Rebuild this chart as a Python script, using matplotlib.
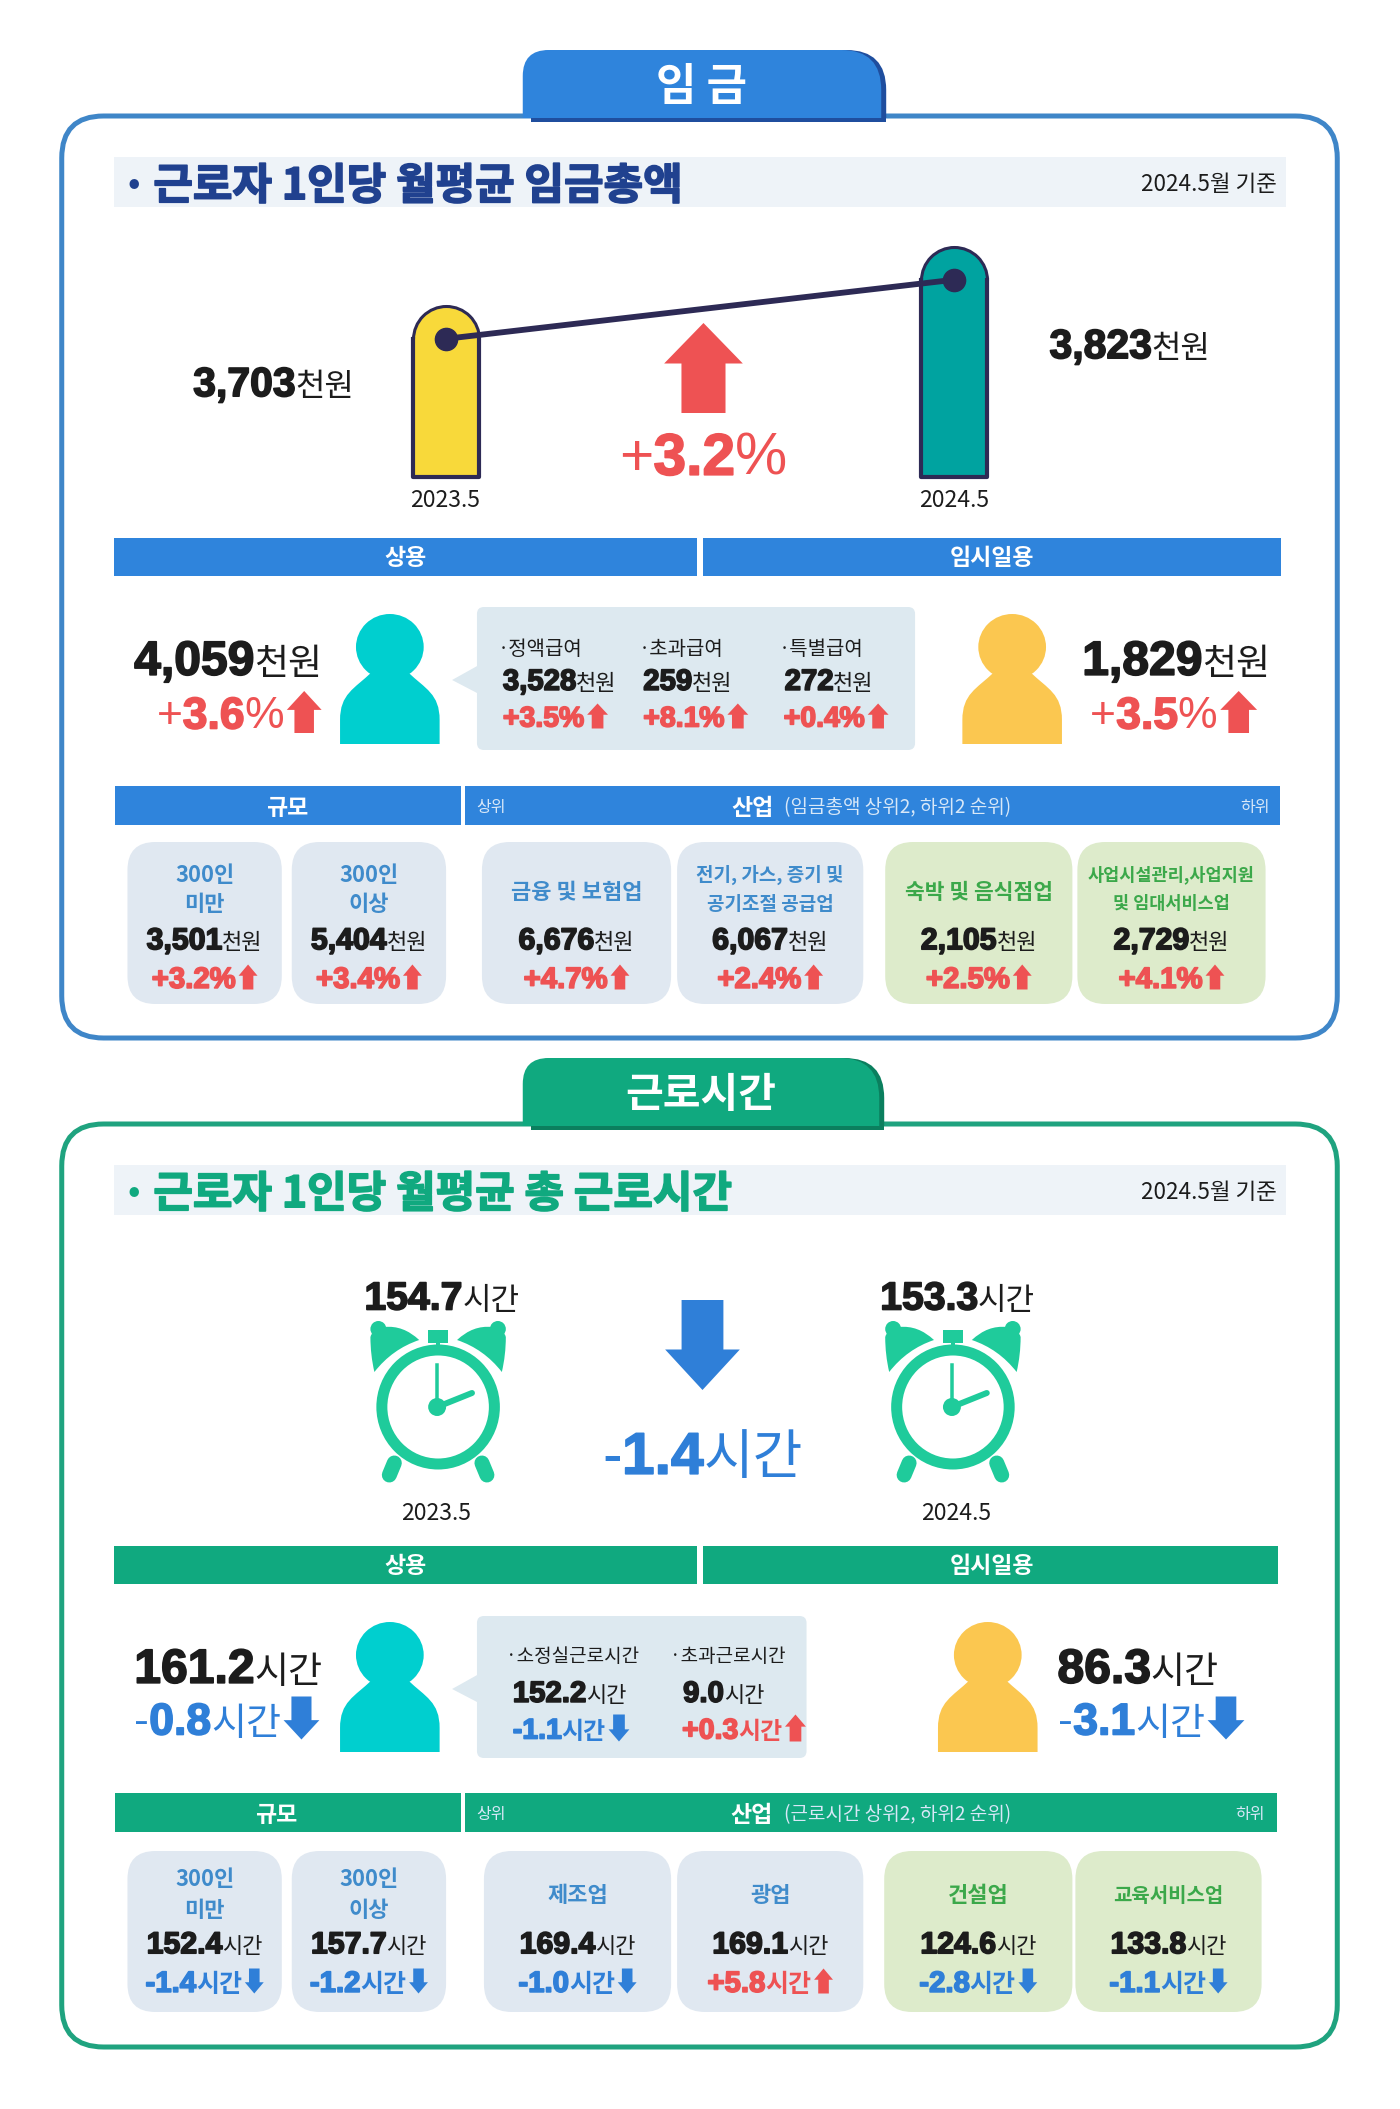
import matplotlib
matplotlib.use('Agg')
import matplotlib.pyplot as plt
import matplotlib.patheffects as pe
from matplotlib.patches import FancyBboxPatch, Ellipse, Polygon, PathPatch, Rectangle, Circle
from matplotlib.path import Path

# values
years = ['2023.5', '2024.5']
wage_total = [3703, 3823]
wage_change = 3.2
wage_regular, wage_regular_change = 4059, 3.6
wage_temp, wage_temp_change = 1829, 3.5
wage_parts = ['정액급여', '초과급여', '특별급여']
wage_part_values = [3528, 259, 272]
wage_part_changes = [3.5, 8.1, 0.4]
wage_card_labels = [['300인', '미만'], ['300인', '이상'], ['금융 및 보험업'], ['전기, 가스, 증기 및', '공기조절 공급업'],
                    ['숙박 및 음식점업'], ['사업시설관리,사업지원', '및 임대서비스업']]
wage_card_values = [3501, 5404, 6676, 6067, 2105, 2729]
wage_card_changes = [3.2, 3.4, 4.7, 2.4, 2.5, 4.1]

hours_total = [154.7, 153.3]
hours_change = -1.4
hours_regular, hours_regular_change = 161.2, -0.8
hours_temp, hours_temp_change = 86.3, -3.1
hours_parts = ['소정실근로시간', '초과근로시간']
hours_part_values = [152.2, 9.0]
hours_part_changes = [-1.1, 0.3]
hours_card_labels = [['300인', '미만'], ['300인', '이상'], ['제조업'], ['광업'], ['건설업'], ['교육서비스업']]
hours_card_values = [152.4, 157.7, 169.4, 169.1, 124.6, 133.8]
hours_card_changes = [-1.4, -1.2, -1.0, 5.8, -2.8, -1.1]

# colours
BLUE = '#2F84DC'
DARK_BLUE = '#1F4E9E'
NAVY_TITLE = '#20418F'
GREEN = '#10A97F'
DARK_GREEN = '#0B7F5E'
RED = '#EE5253'
DOWN = '#2F7FD8'
LABEL_BLUE = '#3F8BCB'
LABEL_GREEN = '#3BA84A'
BLACK = '#1C1C1C'
CARD_BLUE = '#E0E8F1'
CARD_GREEN = '#DDEBCB'
CALLOUT = '#DDE9F0'

KR = ['Noto Sans CJK KR', 'DejaVu Sans']
DIGITS = ['Liberation Sans', 'Noto Sans CJK KR', 'DejaVu Sans']
DIGIT_SCALE = 0.89
XMAX = 1406  # layout was measured on crops, this pulls x back to the real width

fig = plt.figure(figsize=(14, 21.09), dpi=100, facecolor='white')
ax = fig.add_axes([0, 0, 1, 1])
ax.set_xlim(0, XMAX)
ax.set_ylim(2109, 0)
ax.axis('off')
renderer = fig.canvas.get_renderer()


def make_text(x, y, s, em, color=BLACK, bold=False, family=KR, ha='left', va='baseline', heavy=False):
    if family is DIGITS:
        em = em * DIGIT_SCALE
    if va == 'center':
        # hangul sits high in its box
        y = y + 0.12 * em
    t = ax.text(x, y, s, fontsize=em * 0.72, color=color, family=family,
                weight='bold' if bold else 'normal', ha=ha, va=va)
    if heavy:
        t.set_path_effects([pe.withStroke(linewidth=1.2, foreground=color)])
    return t


def arrow(x, y0, w, h, color, up=True):
    # x left edge, y0 top of the arrow box
    head = h * 0.45
    sw = w * 0.28
    cx = x + w / 2
    if up:
        pts = [(cx, y0), (x + w, y0 + head), (cx + sw, y0 + head), (cx + sw, y0 + h),
               (cx - sw, y0 + h), (cx - sw, y0 + head), (x, y0 + head)]
    else:
        yb = y0 + h
        pts = [(cx, yb), (x + w, yb - head), (cx + sw, yb - head), (cx + sw, y0),
               (cx - sw, y0), (cx - sw, yb - head), (x, yb - head)]
    ax.add_patch(Polygon(pts, closed=True, fc=color, ec='none'))


def runs(x, cy, parts, big, align='left', arrow_size=None, arrow_up=True, arrow_color=RED):
    # parts: (text, em, colour, bold, family); baseline set from the biggest digit size
    base = cy + 0.33 * big
    items = []
    total = 0
    for s, em, color, bold, family in parts:
        t = make_text(0, base, s, em, color, bold, family, heavy=bold and family is DIGITS)
        w = t.get_window_extent(renderer).width
        items.append((t, w))
        total += w
    if arrow_size:
        total += arrow_size[0] + 3
    left = x if align == 'left' else x - total if align == 'right' else x - total / 2
    for t, w in items:
        t.set_x(left)
        left += w
    if arrow_size:
        arrow(left + 3, cy - arrow_size[1] / 2, arrow_size[0], arrow_size[1], arrow_color, arrow_up)


def rbox(x0, y0, x1, y1, r, fc, ec='none', lw=0, z=1):
    ax.add_patch(FancyBboxPatch((x0 + r, y0 + r), x1 - x0 - 2 * r, y1 - y0 - 2 * r,
                                boxstyle=f'round,pad={r},rounding_size={r}', fc=fc, ec=ec, lw=lw, zorder=z))


def tab(x0, x1, y0, y1, color, dark, label, em):
    ax.add_patch(Rectangle((x0 + 8, y1 - 12), x1 - x0 - 8, 12, fc=dark, ec='none', zorder=3))
    for dx, c in ((5, dark), (0, color)):
        r1, r2 = 26, 40
        xr = x1 - 5 + dx
        verts = [(x0 + dx, y1 - 4), (x0 + dx, y0 + r1), (x0 + dx, y0), (x0 + dx + r1, y0), (xr - r2, y0),
                 (xr, y0), (xr, y0 + r2), (xr, y1 - 4), (x0 + dx, y1 - 4)]
        codes = [Path.MOVETO, Path.LINETO, Path.CURVE3, Path.CURVE3, Path.LINETO,
                 Path.CURVE3, Path.CURVE3, Path.LINETO, Path.CLOSEPOLY]
        ax.add_patch(PathPatch(Path(verts, codes), fc=c, ec='none', zorder=3))
    t = make_text((x0 + x1) / 2 - 3, (y0 + y1) / 2 - 4, label, em, 'white', True, ha='center', va='center')
    t.set_zorder(4)


def person(cx, y_bottom, color):
    verts = [(cx - 50, y_bottom), (cx - 50, y_bottom - 24), (cx - 50, y_bottom - 50), (cx - 36, y_bottom - 55),
             (cx - 18, y_bottom - 72), (cx + 18, y_bottom - 72), (cx + 36, y_bottom - 55), (cx + 50, y_bottom - 50),
             (cx + 50, y_bottom - 24), (cx + 50, y_bottom), (cx - 50, y_bottom)]
    codes = [Path.MOVETO, Path.LINETO, Path.CURVE4, Path.CURVE4, Path.CURVE4, Path.LINETO,
             Path.CURVE4, Path.CURVE4, Path.CURVE4, Path.LINETO, Path.CLOSEPOLY]
    ax.add_patch(PathPatch(Path(verts, codes), fc=color, ec='none'))
    ax.add_patch(Ellipse((cx, y_bottom - 97), 68, 66, fc=color, ec='none'))


def callout(x0, x1, y0, y1):
    tip_y = y0 + 73
    ax.add_patch(Polygon([(x0 + 2, tip_y - 15), (x0 - 25, tip_y), (x0 + 2, tip_y + 14)], closed=True, fc=CALLOUT, ec='none'))
    rbox(x0, y0, x1, y1, 7, CALLOUT)


def band(x0, x1, y0, y1, color):
    ax.add_patch(Rectangle((x0, y0), x1 - x0, y1 - y0, fc=color, ec='none'))


def band_label(x, y, s, em=23):
    make_text(x, y, s, em, 'white', True, ha='center', va='center')


def fmt_wage(v):
    return f'{v:,}'


def fmt_hour(v):
    return f'{v:.1f}'


def big_delta(x, cy, change, unit, em, unit_em, color, arrow_size, align='left'):
    # thin sign, heavy number, thin unit, then arrow
    sign = '+' if change > 0 else '-'
    parts = [(sign, em, color, False, DIGITS), (f'{abs(change):.1f}', em, color, True, DIGITS)]
    parts.append((unit, unit_em, color, False, DIGITS if unit == '%' else KR))
    runs(x, cy, parts, em, align, arrow_size, change > 0, color)


def value_runs(x, cy, text, unit, em, unit_em, align='center', color=BLACK):
    runs(x, cy, [(text, em, color, True, DIGITS), (unit, unit_em, color, False, KR)], em, align)


def small_delta(x, cy, change, unit, em, unit_em, arrow_size, align='center'):
    color = RED if change > 0 else DOWN
    parts = [(f'{change:+.1f}', em, color, True, DIGITS)]
    parts.append((unit, em if unit == '%' else unit_em, color, True, DIGITS if unit == '%' else KR))
    runs(x, cy, parts, em, align, arrow_size, change > 0, color)


def cards(xs, y0, y1, labels, values, changes, fmt, unit, delta_unit, label_em, y_two, y_one, y_val, y_delta):
    for i, (x0, x1) in enumerate(xs):
        green = i >= 4
        rbox(x0, y0, x1, y1, 28, CARD_GREEN if green else CARD_BLUE)
        cx = (x0 + x1) / 2
        lab = labels[i]
        lc = LABEL_GREEN if green else LABEL_BLUE
        if len(lab) == 1:
            make_text(cx, y_one, lab[0], label_em[i], lc, True, ha='center', va='center')
        else:
            make_text(cx, y_two[0], lab[0], label_em[i], lc, True, ha='center', va='center')
            make_text(cx, y_two[1], lab[1], label_em[i], lc, True, ha='center', va='center')
        value_runs(cx, y_val, fmt(values[i]), unit, 34, 22)
        small_delta(cx, y_delta, changes[i], delta_unit, 33, 25, (19, 25))


def clock(cx, cy, color='#1FCB9B'):
    for side in (-1, 1):
        rel = [(-68, -70), (-68, -52), (-64, -35), (-46, -58), (-19, -67), (-35, -82), (-54, -80), (-66, -78), (-68, -70)]
        verts = [(cx - side * px, cy + py) for px, py in rel]
        codes = [Path.MOVETO] + [Path.CURVE3] * 8
        ax.add_patch(PathPatch(Path(verts, codes), fc=color, ec='none'))
        ax.add_patch(Circle((cx + side * 60, cy - 78), 8, fc=color, ec='none'))
        ax.plot([cx + side * 44, cx + side * 49], [cy + 56, cy + 68], color=color, lw=15 * 0.72,
                solid_capstyle='round')
    ax.add_patch(Rectangle((cx - 10, cy - 77), 20, 13, fc=color, ec='none'))
    ax.add_patch(Rectangle((cx - 2, cy - 66), 4, 8, fc=color, ec='none'))
    ax.add_patch(Ellipse((cx, cy), 113, 114, fc='white', ec=color, lw=11 * 0.72))
    ax.add_patch(Circle((cx - 1, cy), 9, fc=color, ec='none'))
    ax.plot([cx - 1, cx - 1], [cy, cy - 42], color=color, lw=3.5 * 0.72)
    ax.plot([cx - 1, cx + 34], [cy, cy - 14], color=color, lw=6 * 0.72, solid_capstyle='round')


def section_bands(y_top, color, right_edge, temp_right, small_top, small_bottom, size_x, paren, low_x, sanup_x):
    band(114, 700, y_top, y_top + 38, color)
    band(706, temp_right, y_top, y_top + 38, color)
    band_label(407, y_top + 18, '상용')
    band_label(996, y_top + 18, '임시일용')
    band(115, 463, small_top, small_bottom, color)
    band(467, right_edge, small_top, small_bottom, color)
    cy = (small_top + small_bottom) / 2
    band_label(size_x, cy, '규모')
    make_text(493, cy, '상위', 16, '#D8E8F8', ha='center', va='center')
    make_text(low_x, cy, '하위', 16, '#D8E8F8', ha='center', va='center')
    band_label(sanup_x, cy, '산업')
    make_text(787, cy, paren, 19, '#D8E8F8', va='center')


def header(y0, y1, title, color):
    band(114, 1292, y0, y1, '#EEF3F8')
    cy = (y0 + y1) / 2
    make_text(134, cy - 1, '·', 52, color, True, ha='center', va='center')
    t = make_text(154, cy - 1, title, 43, color, True, va='center')
    t.set_path_effects([pe.withStroke(linewidth=1.2, foreground=color)])
    make_text(1282, cy, '2024.5월 기준', 22.5, BLACK, ha='right', va='center')


# ---- wage panel ----
rbox(62, 116, 1343, 1038, 42, 'white', '#3F86C8', 3.6)
tab(525, 890, 50, 122, BLUE, DARK_BLUE, '임 금', 44)
header(157, 207, '근로자 1인당 월평균 임금총액', NAVY_TITLE)

# the two wage columns share real axes scaled on the values
bar_ax = fig.add_axes([300 / XMAX, 1 - 477 / 2109, 800 / XMAX, 271 / 2109])
bar_ax.set_xlim(300, 1100)
bar_ax.set_ylim(3422, 3973)
bar_ax.axis('off')
bar_x = [448, 958]
bar_w = 66
bar_colors = ['#F8D93A', '#00A3A0']
outline = '#2D2A55'
for bx, v, c in zip(bar_x, wage_total, bar_colors):
    bar_ax.plot([bx], [v], 'o', ms=bar_w * 0.72, mfc=c, mec=outline, mew=2.2, zorder=2)
    bar_ax.bar(bx, v - 3422, bottom=3422, width=bar_w, color=c, lw=0, zorder=3)
    bar_ax.plot([bx - bar_w / 2, bx - bar_w / 2, bx + bar_w / 2, bx + bar_w / 2], [v, 3422, 3422, v],
                color=outline, lw=3, zorder=4, clip_on=False)
bar_ax.plot(bar_x, wage_total, color=outline, lw=4.2, zorder=5)
bar_ax.plot(bar_x, wage_total, 'o', color=outline, ms=16, zorder=6)

value_runs(194, 381, fmt_wage(wage_total[0]), '천원', 46, 32, 'left')
value_runs(1054, 343, fmt_wage(wage_total[1]), '천원', 46, 32, 'left')
make_text(447, 498, years[0], 23, BLACK, ha='center', va='center')
make_text(958, 498, years[1], 23, BLACK, ha='center', va='center')
arrow(667, 323, 79, 90, RED, True)
big_delta(622, 453, wage_change, '%', 66, 66, RED, None)

section_bands(538, BLUE, 1285, 1286, 786, 825, 288, '(임금총액 상위2, 하위2 순위)', 1260, 756)

value_runs(323, 657, fmt_wage(wage_regular), '천원', 54, 37, 'right')
big_delta(323, 712, wage_regular_change, '%', 50, 50, RED, (35, 42), 'right')
person(391.5, 744, '#00CFCF')
callout(479, 919, 607, 750)
part_x = [500, 641, 782]
part_val_x = [505, 646, 788]
part_delta_x = [505, 646, 787]
for i in range(3):
    make_text(part_x[i], 647, '·' + wage_parts[i], 20, BLACK, va='center')
    value_runs(part_val_x[i], 679, fmt_wage(wage_part_values[i]), '천원', 33, 22, 'left')
    small_delta(part_delta_x[i], 716, wage_part_changes[i], '%', 32, 25, (21, 25), 'left')
person(1016.5, 744, '#FBC750')
value_runs(1275, 657, fmt_wage(wage_temp), '천원', 54, 37, 'right')
big_delta(1095, 712, wage_temp_change, '%', 50, 50, RED, (37, 42))

wage_xs = [(128, 283), (293, 448), (484, 674), (680, 867), (889, 1077), (1082, 1271)]
cards(wage_xs, 842, 1004, wage_card_labels, wage_card_values, wage_card_changes, fmt_wage, '천원', '%',
      [22, 22, 22, 19, 21.5, 17.5], (873, 902), 890, 938, 977)

# ---- hours panel ----
rbox(62, 1124, 1343, 2047, 42, 'white', '#1FA37F', 3.6)
tab(525, 888, 1058, 1130, GREEN, DARK_GREEN, '근로시간', 41)
header(1165, 1215, '근로자 1인당 월평균 총 근로시간', GREEN)

clock_x = [440, 957]
for cx in clock_x:
    clock(cx, 1407)
value_runs(366, 1295, fmt_hour(hours_total[0]), '시간', 44, 31, 'left')
value_runs(884, 1295, fmt_hour(hours_total[1]), '시간', 44, 31, 'left')
make_text(438, 1511, years[0], 23, BLACK, ha='center', va='center')
make_text(960, 1511, years[1], 23, BLACK, ha='center', va='center')
arrow(668, 1300, 75, 90, DOWN, False)
big_delta(605, 1452, hours_change, '시간', 66, 54, DOWN, None)

section_bands(1546, GREEN, 1282, 1283, 1793, 1832, 277, '(근로시간 상위2, 하위2 순위)', 1255, 755)

value_runs(323, 1665, fmt_hour(hours_regular), '시간', 54, 37, 'right')
big_delta(135, 1718, hours_regular_change, '시간', 50, 38, DOWN, (36, 43))
person(391.5, 1752, '#00CFCF')
callout(479, 810, 1616, 1758)
hour_label_x = [508, 673]
hour_val_x = [515, 686]
hour_delta_x = [515, 685]
for i in range(2):
    make_text(hour_label_x[i], 1654, '·' + hours_parts[i], 19, BLACK, va='center')
    value_runs(hour_val_x[i], 1691, fmt_hour(hours_part_values[i]), '시간', 33, 22, 'left')
    small_delta(hour_delta_x[i], 1728, hours_part_changes[i], '시간', 32, 24, (21, 27), 'left')
person(992, 1752, '#FBC750')
value_runs(1062, 1665, fmt_hour(hours_temp), '시간', 54, 37, 'left')
big_delta(1063, 1718, hours_temp_change, '시간', 50, 38, DOWN, (37, 43))

hour_xs = [(128, 283), (293, 448), (486, 674), (680, 867), (888, 1077), (1080, 1267)]
cards(hour_xs, 1851, 2012, hours_card_labels, hours_card_values, hours_card_changes, fmt_hour, '시간', '시간',
      [22, 22, 22, 22, 22, 20], (1877, 1908), 1893, 1942, 1981)

fig.savefig('out.png', dpi=100, facecolor='white')
